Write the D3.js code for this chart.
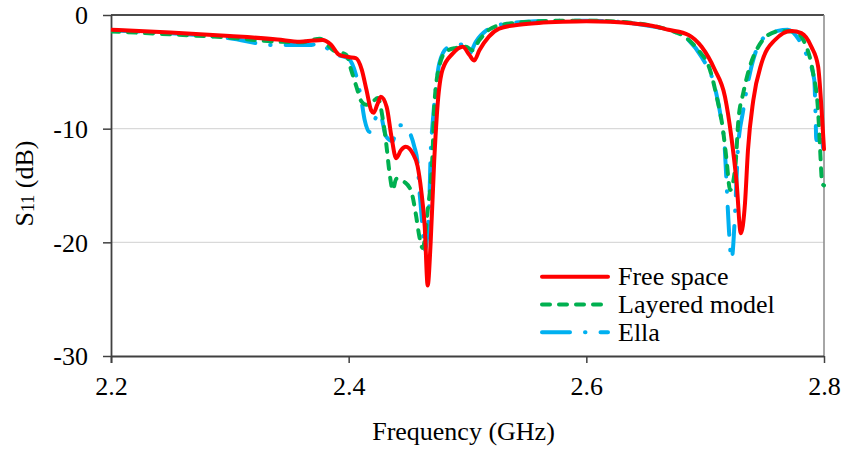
<!DOCTYPE html>
<html>
<head>
<meta charset="utf-8">
<script src="https://cdn.jsdelivr.net/npm/d3@7/dist/d3.min.js"></script>
</head>
<body style="margin:0;background:#fff">
<svg id="chart" width="844" height="449" style="display:block"></svg>
<script>
// S11 reflection measurements, [frequency GHz, S11 dB]
const freeSpace = [
  [2.2, -1.3], [2.25, -1.55], [2.3, -1.85], [2.34, -2.15], [2.359, -2.35], [2.37, -2.25],
  [2.378, -2.2], [2.385, -2.6], [2.392, -3.5], [2.4, -3.7], [2.406, -3.8], [2.411, -4.8],
  [2.415, -6.6], [2.419, -8.4], [2.421, -8.6], [2.424, -7.9], [2.427, -7.2], [2.432, -8.1],
  [2.436, -10.7], [2.44, -12.6], [2.444, -11.9], [2.448, -11.6], [2.454, -12.2], [2.458, -13.3],
  [2.461, -15.4], [2.464, -18.6], [2.4665, -23.8], [2.469, -20], [2.472, -12.8], [2.475, -7.7],
  [2.479, -4.8], [2.4875, -3.4], [2.496, -2.8], [2.5015, -3.5], [2.5057, -4.0], [2.51, -3.1],
  [2.518, -1.9], [2.5266, -1.2], [2.54, -0.9], [2.56, -0.7], [2.58, -0.6], [2.6, -0.55],
  [2.62, -0.6], [2.64, -0.75], [2.655, -0.95], [2.669, -1.3], [2.686, -1.76], [2.697, -2.8],
  [2.708, -4.8], [2.7167, -7.2], [2.722, -10.7], [2.7265, -14.8], [2.73, -19.2], [2.7335, -16.6],
  [2.736, -11.9], [2.7405, -7.5], [2.7474, -4.25], [2.7587, -2.2], [2.7726, -1.4], [2.781, -1.6],
  [2.7894, -2.8], [2.795, -4.5], [2.798, -8.4], [2.8, -11.8]
];

const layeredModel = [
  [2.2, -1.45], [2.25, -1.7], [2.3, -2.0], [2.34, -2.35], [2.36, -2.4], [2.3757, -2.1],
  [2.387, -3.1], [2.398, -3.5], [2.402, -4.8], [2.4065, -6.3], [2.4107, -7.6], [2.415, -7.9],
  [2.4204, -7.6], [2.4246, -7.3], [2.4288, -9.2], [2.4316, -11.3], [2.4344, -13.9], [2.4372, -15.4],
  [2.44, -14.4], [2.447, -14.7], [2.4526, -15.5], [2.4568, -17.7], [2.4595, -19.5], [2.4623, -20.5],
  [2.4665, -17.2], [2.4707, -11.9], [2.472, -8.1], [2.4763, -4.5], [2.482, -3.2], [2.4903, -2.9],
  [2.4987, -2.8], [2.504, -3.1], [2.51, -2.2], [2.518, -1.3], [2.5266, -0.9], [2.54, -0.7],
  [2.56, -0.55], [2.58, -0.5], [2.6, -0.5], [2.62, -0.55], [2.64, -0.7], [2.655, -0.95],
  [2.669, -1.3], [2.6803, -1.76], [2.6943, -3.1], [2.704, -4.8], [2.7097, -7.2], [2.715, -10.1],
  [2.718, -12.75], [2.721, -15.4], [2.7254, -13.3], [2.728, -9.2], [2.732, -6.9], [2.7377, -4.5],
  [2.7447, -2.8], [2.753, -1.76], [2.764, -1.4], [2.7755, -1.47], [2.784, -2.5], [2.7908, -5.1],
  [2.795, -8.4], [2.7965, -11.3], [2.7985, -14.8], [2.8, -15]
];

const ella = [
  [2.2, -1.35], [2.25, -1.6], [2.3, -2.05], [2.3365, -2.64], [2.367, -2.64], [2.3757, -2.5],
  [2.387, -3.4], [2.3995, -3.8], [2.4065, -5.4], [2.4107, -7.5], [2.4134, -9.2], [2.4176, -10.3],
  [2.422, -9.2], [2.426, -8.6], [2.4316, -10.7], [2.437, -11.1], [2.44, -10.1], [2.444, -9.7],
  [2.451, -10.3], [2.4553, -11.6], [2.458, -13], [2.4595, -15.4], [2.461, -17.2], [2.4623, -18.9],
  [2.464, -20.7], [2.4665, -18.9], [2.468, -16], [2.469, -12.2], [2.4707, -9.5], [2.4735, -6.3],
  [2.4763, -4.25], [2.483, -2.9], [2.496, -2.6], [2.5015, -3.4], [2.507, -2.35], [2.518, -1.2],
  [2.53, -0.8], [2.55, -0.6], [2.58, -0.5], [2.6, -0.5], [2.62, -0.55], [2.64, -0.75],
  [2.655, -1.0], [2.669, -1.3], [2.686, -2.2], [2.697, -3.7], [2.708, -6.3], [2.7135, -9.2],
  [2.7166, -11.9], [2.718, -14.8], [2.72, -18.9], [2.7222, -21.5], [2.725, -17.7], [2.7265, -14.2],
  [2.7275, -11.9], [2.732, -8.4], [2.7377, -5.1], [2.743, -3.1], [2.7503, -1.9], [2.761, -1.4],
  [2.7695, -1.3], [2.779, -2.2], [2.786, -3.7], [2.7918, -5.7], [2.793, -9.2], [2.7935, -11],
  [2.798, -11], [2.8, -12.5]
];

const seriesNames = ["Free space", "Layered model", "Ella"];
const xTicks = [2.2, 2.4, 2.6, 2.8];
const yTicks = [0, -10, -20, -30];

const serif = "'Liberation Serif'";
const svg = d3.select("#chart");
const plotLeft = 111, plotRight = 824, plotTop = 15, plotBottom = 356;

const x = d3.scaleLinear().domain([2.2, 2.8]).range([plotLeft, plotRight]);
const y = d3.scaleLinear().domain([-30, 0]).range([plotBottom, plotTop]);

// horizontal gridlines
svg.append("g")
  .selectAll("line")
  .data(yTicks.filter(v => v !== 0 && v !== -30))
  .join("line")
  .attr("x1", plotLeft).attr("x2", plotRight)
  .attr("y1", d => y(d)).attr("y2", d => y(d))
  .attr("stroke", "#d9d9d9").attr("stroke-width", 1.2);

// frame: top and right edges
svg.append("line").attr("x1", plotLeft).attr("x2", plotRight).attr("y1", plotTop).attr("y2", plotTop)
  .attr("stroke", "#111").attr("stroke-width", 1.5);
svg.append("line").attr("x1", plotRight).attr("x2", plotRight).attr("y1", plotTop).attr("y2", plotBottom)
  .attr("stroke", "#888").attr("stroke-width", 1.5);

// axes
const xAxis = d3.axisBottom(x).tickValues(xTicks).tickFormat(d3.format(".1f")).tickSize(7).tickPadding(14);
const yAxis = d3.axisLeft(y).tickValues(yTicks).tickFormat(d => String(d)).tickSize(8).tickPadding(15);

const gx = svg.append("g").attr("transform", `translate(0,${plotBottom})`).call(xAxis);
const gy = svg.append("g").attr("transform", `translate(${plotLeft},0)`).call(yAxis);

[gx, gy].forEach(g => {
  g.attr("font-family", null).attr("font-size", null);
  g.select(".domain").attr("stroke", "#404040").attr("stroke-width", 1.8);
  g.selectAll(".tick line").attr("stroke", "#404040").attr("stroke-width", 1.5);
  g.selectAll(".tick text").attr("fill", "#000")
    .style("font-family", serif).style("font-size", "26px");
});
gx.select(".domain").attr("d", `M${plotLeft},0.5H${plotRight}`);
gy.select(".domain").attr("d", `M0.5,${plotTop}V${plotBottom + 7}`);
gy.selectAll(".tick text").attr("dy", "0.34em");
gx.selectAll(".tick text").attr("dy", "0.71em");

// axis titles
svg.append("text")
  .attr("x", (plotLeft + plotRight) / 2 - 4).attr("y", 440)
  .attr("text-anchor", "middle")
  .style("font-family", serif).style("font-size", "26px")
  .text("Frequency (GHz)");

const yTitle = svg.append("text")
  .attr("transform", "translate(33,183.5) rotate(-90)")
  .attr("text-anchor", "middle")
  .style("font-family", serif).style("font-size", "26px");
yTitle.append("tspan").text("S");
yTitle.append("tspan").style("font-size", "18px").attr("dy", "1").text("11");
yTitle.append("tspan").attr("dy", "-1").text(" (dB)");

// series lines
const line = d3.line().x(d => x(d[0])).y(d => y(d[1])).curve(d3.curveMonotoneX);

const styles = [
  { data: freeSpace, color: "#FF0000", dash: null },
  { data: layeredModel, color: "#00B050", dash: "8,9" },
  { data: ella, color: "#00B0F0", dash: "28,15,0.5,15" }
];

const plot = svg.append("g");
plot.append("clipPath").attr("id", "clip").append("rect")
  .attr("x", plotLeft).attr("y", plotTop - 5).attr("width", plotRight - plotLeft + 2).attr("height", plotBottom - plotTop + 10);

// Ella first, free space last so the red curve sits on top
[2, 1, 0].forEach(i => {
  const s = styles[i];
  plot.append("path")
    .attr("d", line(s.data))
    .attr("fill", "none")
    .attr("stroke", s.color)
    .attr("stroke-width", 4)
    .attr("stroke-linejoin", "round")
    .attr("stroke-linecap", "round")
    .attr("stroke-dasharray", s.dash)
    .attr("clip-path", "url(#clip)");
});

// legend
const legend = svg.append("g");
const legendY = [276.7, 304.4, 332.2];
styles.forEach((s, i) => {
  legend.append("line")
    .attr("x1", 542).attr("x2", 608)
    .attr("y1", legendY[i]).attr("y2", legendY[i])
    .attr("stroke", s.color).attr("stroke-width", 4)
    .attr("stroke-linecap", "round")
    .attr("stroke-dasharray", s.dash);
  legend.append("text")
    .attr("x", 618).attr("y", legendY[i] + 8.5)
    .style("font-family", serif).style("font-size", "26px")
    .text(seriesNames[i]);
});
</script>
</body>
</html>
